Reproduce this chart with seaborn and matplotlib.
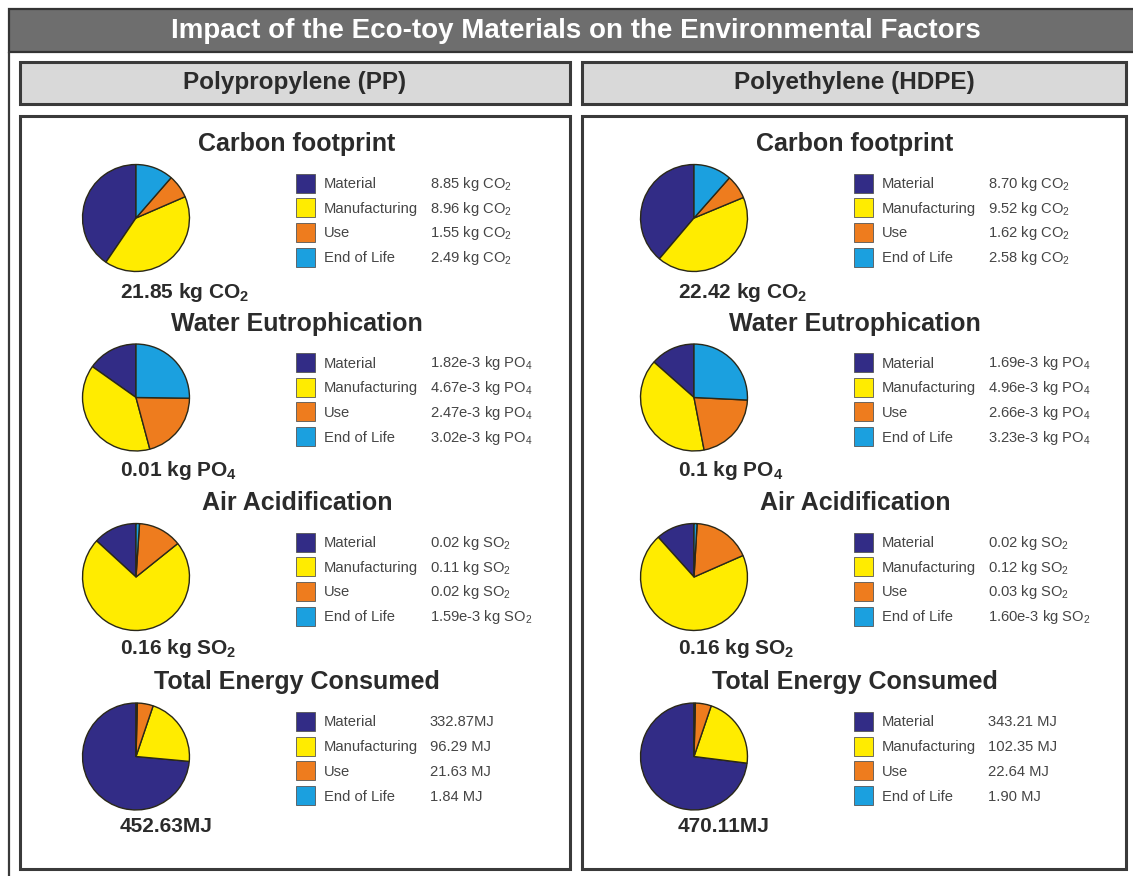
import matplotlib
matplotlib.use("Agg")
import matplotlib.pyplot as plt
from matplotlib.patches import Rectangle
import seaborn as sns

# ---------------- data ----------------
title = "Impact of the Eco-toy Materials on the Environmental Factors"
materials = ["Polypropylene (PP)", "Polyethylene (HDPE)"]
sections = ["Carbon footprint", "Water Eutrophication", "Air Acidification", "Total Energy Consumed"]
categories = ["Material", "Manufacturing", "Use", "End of Life"]

pp_carbon = [8.85, 8.96, 1.55, 2.49]
pp_water = [1.82e-3, 4.67e-3, 2.47e-3, 3.02e-3]
pp_air = [0.02, 0.11, 0.02, 1.59e-3]
pp_energy = [332.87, 96.29, 21.63, 1.84]

hdpe_carbon = [8.70, 9.52, 1.62, 2.58]
hdpe_water = [1.69e-3, 4.96e-3, 2.66e-3, 3.23e-3]
hdpe_air = [0.02, 0.12, 0.03, 1.60e-3]
hdpe_energy = [343.21, 102.35, 22.64, 1.90]

pp_carbon_labels = ["8.85 kg CO$_\\mathrm{2}$", "8.96 kg CO$_\\mathrm{2}$", "1.55 kg CO$_\\mathrm{2}$", "2.49 kg CO$_\\mathrm{2}$"]
pp_water_labels = ["1.82e-3 kg PO$_\\mathrm{4}$", "4.67e-3 kg PO$_\\mathrm{4}$", "2.47e-3 kg PO$_\\mathrm{4}$", "3.02e-3 kg PO$_\\mathrm{4}$"]
pp_air_labels = ["0.02 kg SO$_\\mathrm{2}$", "0.11 kg SO$_\\mathrm{2}$", "0.02 kg SO$_\\mathrm{2}$", "1.59e-3 kg SO$_\\mathrm{2}$"]
pp_energy_labels = ["332.87MJ", "96.29 MJ", "21.63 MJ", "1.84 MJ"]

hdpe_carbon_labels = ["8.70 kg CO$_\\mathrm{2}$", "9.52 kg CO$_\\mathrm{2}$", "1.62 kg CO$_\\mathrm{2}$", "2.58 kg CO$_\\mathrm{2}$"]
hdpe_water_labels = ["1.69e-3 kg PO$_\\mathrm{4}$", "4.96e-3 kg PO$_\\mathrm{4}$", "2.66e-3 kg PO$_\\mathrm{4}$", "3.23e-3 kg PO$_\\mathrm{4}$"]
hdpe_air_labels = ["0.02 kg SO$_\\mathrm{2}$", "0.12 kg SO$_\\mathrm{2}$", "0.03 kg SO$_\\mathrm{2}$", "1.60e-3 kg SO$_\\mathrm{2}$"]
hdpe_energy_labels = ["343.21 MJ", "102.35 MJ", "22.64 MJ", "1.90 MJ"]

pp_totals = ["21.85 kg CO$_\\mathbf{2}$", "0.01 kg PO$_\\mathbf{4}$", "0.16 kg SO$_\\mathbf{2}$", "452.63MJ"]
hdpe_totals = ["22.42 kg CO$_\\mathbf{2}$", "0.1 kg PO$_\\mathbf{4}$", "0.16 kg SO$_\\mathbf{2}$", "470.11MJ"]

pp_values = [pp_carbon, pp_water, pp_air, pp_energy]
hdpe_values = [hdpe_carbon, hdpe_water, hdpe_air, hdpe_energy]
pp_labels = [pp_carbon_labels, pp_water_labels, pp_air_labels, pp_energy_labels]
hdpe_labels = [hdpe_carbon_labels, hdpe_water_labels, hdpe_air_labels, hdpe_energy_labels]

# ---------------- style ----------------
sns.set_theme(style="white")
plt.rcParams["font.family"] = ["Liberation Sans", "DejaVu Sans"]
plt.rcParams["mathtext.fontset"] = "custom"
plt.rcParams["mathtext.rm"] = "Liberation Sans"
plt.rcParams["mathtext.bf"] = "Liberation Sans:bold"
plt.rcParams["mathtext.it"] = "Liberation Sans:italic"

colors = sns.color_palette(["#322C86", "#FFEC00", "#EE7C1E", "#1BA0DF"])
DARK = "#2b2b2b"
LEG = "#454545"

W, H = 1133, 876
fig = plt.figure(figsize=(W / 100, H / 100), dpi=100)
fig.patch.set_facecolor("white")
bg = fig.add_axes([0, 0, 1, 1])
bg.set_xlim(0, W)
bg.set_ylim(H, 0)
bg.axis("off")

# outer frame + title bar
bg.plot([8.5, 8.5], [52, H], color="#3a3a3a", lw=1.6)
bg.add_patch(Rectangle((8.5, 8.5), W, 43.5, facecolor="#6e6e6e", edgecolor="#333333", lw=1.6))
bg.text(576, 31, title, color="white", fontsize=20, fontweight="bold", ha="center", va="center")

box_x = [20, 582]
box_w = [550, 544]
x_offsets = [0, 558]
for k, (mat, vals_all, labs_all, totals) in enumerate(
        zip(materials, [pp_values, hdpe_values], [pp_labels, hdpe_labels], [pp_totals, hdpe_totals])):
    dx = x_offsets[k]
    # header box
    bg.add_patch(Rectangle((box_x[k], 62), box_w[k], 42, facecolor="#d9d9d9", edgecolor="#3a3a3a", lw=2.2))
    bg.text(box_x[k] + box_w[k] / 2, 83, mat, color=DARK, fontsize=17.5, fontweight="bold",
            ha="center", va="center")
    # panel box
    bg.add_patch(Rectangle((box_x[k], 116), box_w[k], 753, facecolor="white", edgecolor="#3a3a3a", lw=2.2))

    for i, sec in enumerate(sections):
        oy = i * 179.5
        bg.text(297 + dx, 144 + oy, sec, color=DARK, fontsize=18, fontweight="bold", ha="center", va="center")
        # pie
        cx, cy, r = 136 + dx, 218 + oy, 54
        pax = fig.add_axes([(cx - r) / W, 1 - (cy + r) / H, 2 * r / W, 2 * r / H])
        pax.pie(vals_all[i], colors=colors, startangle=90, counterclock=True,
                wedgeprops=dict(edgecolor="#2a2818", linewidth=1.0))
        pax.set_xlim(-1.01, 1.01)
        pax.set_ylim(-1.01, 1.01)
        pax.set_aspect("equal")
        pax.axis("off")
        # total label
        bg.text(120 + dx, 293 + oy - 1.5 * i, totals[i], color=DARK, fontsize=15, fontweight="bold",
                ha="left", va="center")
        # legend
        for j, cat in enumerate(categories):
            ry = 183 + oy + j * 24.7
            bg.add_patch(Rectangle((296 + dx, ry - 9.5), 19, 19, facecolor=colors[j], edgecolor="#555555", lw=0.6))
            bg.text(324 + dx, ry + 1, cat, color=LEG, fontsize=10.6, ha="left", va="center")
            bg.text(430 + dx, ry + 1, labs_all[i][j], color=LEG, fontsize=10.6, ha="left", va="center")

fig.savefig("out.png", dpi=100, facecolor="white")
